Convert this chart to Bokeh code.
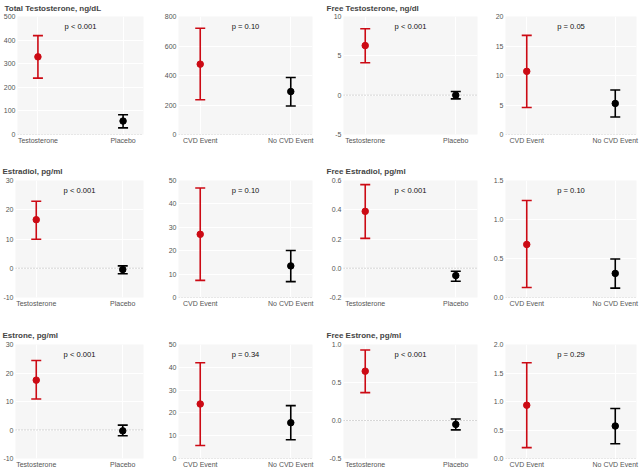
from bokeh.plotting import figure
from bokeh.layouts import column, row
from bokeh.models import (ColumnDataSource, Whisker, TeeHead, Span, FixedTicker,
                          Range1d, NumeralTickFormatter)
from bokeh.embed import file_html
from bokeh.resources import INLINE
from bokeh.core.properties import value

# ---------------- data ----------------
groups_trt = ["Testosterone", "Placebo"]
groups_cvd = ["CVD Event", "No CVD Event"]

titles = ["Total Testosterone, ng/dL", "Free Testosterone, ng/dl",
          "Estradiol, pg/ml", "Free Estradiol, pg/ml",
          "Estrone, pg/ml", "Free Estrone, pg/ml"]

# Total testosterone
tt_trt_mean = [329, 57];   tt_trt_low = [239, 28];   tt_trt_up = [419, 84]
tt_cvd_mean = [477, 291];  tt_cvd_low = [236, 193];  tt_cvd_up = [720, 386]
# Free testosterone
ft_trt_mean = [6.3, 0.0];  ft_trt_low = [4.13, -0.47]; ft_trt_up = [8.44, 0.46]
ft_cvd_mean = [10.7, 5.26]; ft_cvd_low = [4.57, 2.97]; ft_cvd_up = [16.8, 7.54]
# Estradiol
e2_trt_mean = [16.6, -0.45]; e2_trt_low = [9.9, -1.9]; e2_trt_up = [22.9, 0.8]
e2_cvd_mean = [27.0, 13.5];  e2_cvd_low = [7.3, 6.8];  e2_cvd_up = [46.8, 20.1]
# Free estradiol
fe2_trt_mean = [0.389, -0.05]; fe2_trt_low = [0.204, -0.089]; fe2_trt_up = [0.572, -0.02]
fe2_cvd_mean = [0.68, 0.309];  fe2_cvd_low = [0.128, 0.12];   fe2_cvd_up = [1.243, 0.494]
# Estrone
e1_trt_mean = [17.5, -0.3]; e1_trt_low = [10.9, -2.0]; e1_trt_up = [24.4, 1.7]
e1_cvd_mean = [23.9, 15.7]; e1_cvd_low = [5.7, 8.2];   e1_cvd_up = [42.0, 23.2]
# Free estrone
fe1_trt_mean = [0.649, -0.051]; fe1_trt_low = [0.367, -0.124]; fe1_trt_up = [0.927, 0.02]
fe1_cvd_mean = [0.935, 0.57];   fe1_cvd_low = [0.19, 0.26];    fe1_cvd_up = [1.68, 0.877]

p_values = ["p < 0.001", "p = 0.10", "p < 0.001", "p = 0.05",
            "p < 0.001", "p = 0.10", "p < 0.001", "p = 0.10",
            "p < 0.001", "p = 0.34", "p < 0.001", "p = 0.29"]

y_ticks = [[0, 100, 200, 300, 400, 500], [0, 200, 400, 600, 800],
           [-5, 0, 5, 10], [0, 5, 10, 15, 20],
           [-10, 0, 10, 20, 30], [0, 10, 20, 30, 40, 50],
           [-0.2, 0.0, 0.2, 0.4, 0.6], [0.0, 0.5, 1.0, 1.5],
           [-10, 0, 10, 20, 30], [0, 10, 20, 30, 40, 50],
           [-0.5, 0.0, 0.5, 1.0], [0.0, 0.5, 1.0, 1.5, 2.0]]
y_formats = ["0", "0", "0", "0", "0", "0", "0.0", "0.0", "0", "0", "0.0", "0.0"]

panels = [
    (groups_trt, tt_trt_mean, tt_trt_low, tt_trt_up),
    (groups_cvd, tt_cvd_mean, tt_cvd_low, tt_cvd_up),
    (groups_trt, ft_trt_mean, ft_trt_low, ft_trt_up),
    (groups_cvd, ft_cvd_mean, ft_cvd_low, ft_cvd_up),
    (groups_trt, e2_trt_mean, e2_trt_low, e2_trt_up),
    (groups_cvd, e2_cvd_mean, e2_cvd_low, e2_cvd_up),
    (groups_trt, fe2_trt_mean, fe2_trt_low, fe2_trt_up),
    (groups_cvd, fe2_cvd_mean, fe2_cvd_low, fe2_cvd_up),
    (groups_trt, e1_trt_mean, e1_trt_low, e1_trt_up),
    (groups_cvd, e1_cvd_mean, e1_cvd_low, e1_cvd_up),
    (groups_trt, fe1_trt_mean, fe1_trt_low, fe1_trt_up),
    (groups_cvd, fe1_cvd_mean, fe1_cvd_low, fe1_cvd_up),
]

# ---------------- style / layout ----------------
FONT = "Liberation Sans"
RED = "#cc0a14"
BLACK = "#000000"
colors = [RED, BLACK]

col_w = [160, 165, 165, 149]
col_bl = [14, 18, 18, 15]
col_br = [17, 13, 13, 3]
row_h = [160, 165, 145]
row_bt = [16, 20, 19]
row_bb = [26, 28, 9]
row_title_standoff = [4, 6, 6]

figs = []
for i, (cats, mean, low, up) in enumerate(panels):
    r, c = divmod(i, 4)
    ticks = y_ticks[i]
    ymin, ymax = ticks[0], ticks[-1]
    p = figure(width=col_w[c], height=row_h[r], output_backend="svg",
               toolbar_location=None, tools="",
               x_range=Range1d(0.76, 2.24), y_range=Range1d(ymin, ymax),
               min_border_left=col_bl[c], min_border_right=col_br[c],
               min_border_top=row_bt[r], min_border_bottom=row_bb[r])
    p.background_fill_color = "#f6f6f6"
    p.border_fill_color = "white"
    p.outline_line_color = None
    p.xgrid.grid_line_color = "white"
    p.ygrid.grid_line_color = "white"
    p.xgrid.ticker = FixedTicker(ticks=[1, 2])
    p.ygrid.ticker = FixedTicker(ticks=ticks)

    for ax in (p.xaxis[0], p.yaxis[0]):
        ax.axis_line_color = None
        ax.major_tick_line_color = None
        ax.minor_tick_line_color = None
        ax.major_tick_out = 0
        ax.major_tick_in = 0
        ax.minor_tick_out = 0
        ax.minor_tick_in = 0
        ax.major_label_text_font = FONT
        ax.major_label_text_font_size = "7px"
        ax.major_label_text_color = "#555555"
        ax.major_label_standoff = 2
    p.xaxis.ticker = FixedTicker(ticks=[1, 2])
    p.xaxis.major_label_overrides = {1: cats[0], 2: cats[1]}
    p.yaxis.ticker = FixedTicker(ticks=ticks)
    p.yaxis.formatter = NumeralTickFormatter(format=y_formats[i])

    zero = Span(location=0, dimension="width", line_color="#9a9a9a",
                line_dash="1 2", line_width=0.8, level="underlay")
    p.add_layout(zero)

    for k in range(2):
        src = ColumnDataSource(dict(x=[k + 1], mean=[mean[k]], lower=[low[k]], upper=[up[k]]))
        w = Whisker(source=src, base="x", upper="upper", lower="lower",
                    line_color=colors[k], line_width=1.6,
                    upper_head=TeeHead(size=10, line_color=colors[k], line_width=1.6),
                    lower_head=TeeHead(size=10, line_color=colors[k], line_width=1.6))
        p.add_layout(w)
        p.scatter(x="x", y="mean", source=src, size=6.5, color=colors[k])

    p.text(x=[1.5], y=[ymax - 0.085 * (ymax - ymin)], text=[p_values[i]],
           text_align="center", text_baseline="middle",
           text_font=value(FONT), text_font_size="7.6px",
           text_font_style="normal", text_color="#111111")

    if c in (0, 2):
        p.title.text = titles[r * 2 + c // 2]
        p.title.align = "left"
        p.title.vertical_align = "top"
        p.title.text_font = FONT
        p.title.text_font_size = "8px"
        p.title.text_font_style = "bold"
        p.title.standoff = row_title_standoff[r]
        p.title.offset = -col_bl[c] + 1
    figs.append(p)

layout = column(row(*figs[0:4]), row(*figs[4:8]), row(*figs[8:12]))

open("out.html", "w").write(file_html(layout, INLINE))
